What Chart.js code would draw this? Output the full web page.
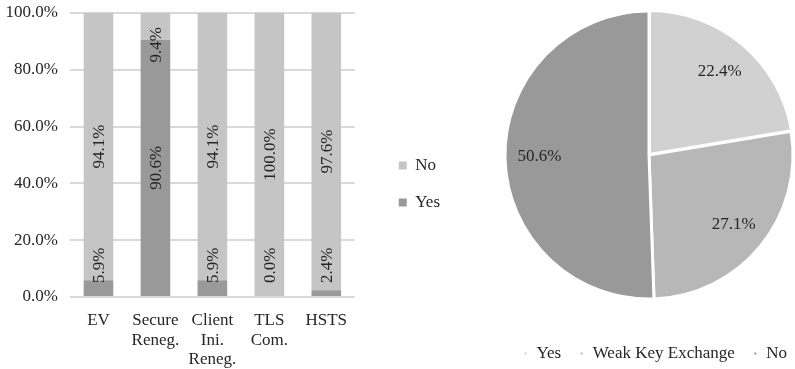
<!DOCTYPE html>
<html>
<head>
<meta charset="utf-8">
<script src="https://cdn.jsdelivr.net/npm/chart.js@4/dist/chart.umd.min.js"></script>
<style>
  html, body { margin: 0; padding: 0; background: #ffffff; }
  #wrap { position: relative; width: 795px; height: 369px; overflow: hidden; }
  #bars { position: absolute; left: 0; top: 0; }
  #pie { position: absolute; left: 480px; top: 0; }
</style>
</head>
<body>
<div id="wrap">
  <canvas id="bars" width="490" height="369"></canvas>
  <canvas id="pie" width="338" height="369"></canvas>
</div>
<script>
// Feature support, share of sites (%)
const categories = [['EV'], ['Secure', 'Reneg.'], ['Client', 'Ini.', 'Reneg.'], ['TLS', 'Com.'], ['HSTS']];
const yesShare = [5.9, 90.6, 5.9, 0.0, 2.4];
const noShare = [94.1, 9.4, 94.1, 100.0, 97.6];
const yTickValues = [0, 20, 40, 60, 80, 100];

// Key exchange breakdown (%)
const pieLabels = ['Yes', 'Weak Key Exchange', 'No'];
const pieShares = [22.4, 27.1, 50.6];

const SERIF = '"Liberation Serif", "Times New Roman", Times, serif';
const TEXT = '#262626';
const FS = 17;
Chart.defaults.font.family = SERIF;
Chart.defaults.font.size = FS;
Chart.defaults.color = TEXT;
Chart.defaults.animation = false;
Chart.defaults.responsive = false;

const pct = v => Number(v).toFixed(1) + '%';

// Moves the legend box by a fixed amount after layout
const legendShift = {
  id: 'legendShift',
  afterLayout(chart, args, opts) {
    const l = chart.legend;
    if (!l) return;
    const dx = opts.dx || 0, dy = opts.dy || 0;
    l.left += dx; l.right += dx; l.top += dy; l.bottom += dy;
  }
};

// Vertical value labels inside the stacked bars, kept inside the plot
const barValueLabels = {
  id: 'barValueLabels',
  afterDatasetsDraw(chart, args, opts) {
    const ctx = chart.ctx;
    const area = chart.chartArea;
    const m = opts.margin || 14;
    ctx.save();
    ctx.font = FS + 'px ' + SERIF;
    ctx.fillStyle = TEXT;
    ctx.textAlign = 'center';
    ctx.textBaseline = 'middle';
    chart.data.datasets.forEach((ds, di) => {
      const meta = chart.getDatasetMeta(di);
      meta.data.forEach((bar, i) => {
        const p = bar.getProps(['x', 'y', 'base'], true);
        const txt = pct(ds.data[i]);
        const w = ctx.measureText(txt).width;
        let cy = (p.y + p.base) / 2;
        cy = Math.max(cy, area.top + m + w / 2);
        cy = Math.min(cy, area.bottom - m - w / 2);
        ctx.save();
        ctx.translate(p.x, cy);
        ctx.rotate(-Math.PI / 2);
        ctx.fillText(txt, 0, 1);
        ctx.restore();
      });
    });
    ctx.restore();
  }
};

// Percent labels on the pie slices
const pieValueLabels = {
  id: 'pieValueLabels',
  afterDatasetsDraw(chart, args, opts) {
    const ctx = chart.ctx;
    const meta = chart.getDatasetMeta(0);
    const ds = chart.data.datasets[0];
    ctx.save();
    ctx.font = FS + 'px ' + SERIF;
    ctx.fillStyle = TEXT;
    ctx.textAlign = 'center';
    ctx.textBaseline = 'middle';
    meta.data.forEach((arc, i) => {
      const p = arc.getProps(['x', 'y', 'startAngle', 'endAngle', 'outerRadius'], true);
      const mid = (p.startAngle + p.endAngle) / 2;
      const r = p.outerRadius * (opts.ratio || 0.76);
      ctx.fillText(pct(ds.data[i]), p.x + Math.cos(mid) * r, p.y + Math.sin(mid) * r);
    });
    ctx.restore();
  }
};

new Chart(document.getElementById('bars'), {
  type: 'bar',
  data: {
    labels: categories,
    datasets: [
      { label: 'Yes', data: yesShare, backgroundColor: '#999999', barPercentage: 0.52, categoryPercentage: 1 },
      { label: 'No', data: noShare, backgroundColor: '#c4c5c4', barPercentage: 0.52, categoryPercentage: 1 }
    ]
  },
  options: {
    maintainAspectRatio: false,
    layout: { padding: { left: 5, top: 13, right: 64, bottom: 0 } },
    scales: {
      x: {
        stacked: true,
        grid: { display: false, drawTicks: false },
        border: { display: false },
        ticks: { padding: 14, color: TEXT, maxRotation: 0, autoSkip: false, font: { lineHeight: 1.15 } },
        afterFit: axis => { axis.height = 72; }
      },
      y: {
        stacked: true,
        min: 0, max: 100,
        afterBuildTicks: axis => { axis.ticks = yTickValues.map(v => ({ value: v })); },
        grid: { color: '#d9d9d9', lineWidth: 2, drawTicks: false },
        border: { display: false },
        ticks: { padding: 12, color: TEXT, callback: v => pct(v) },
        afterFit: axis => { axis.width = 65; axis.paddingTop = 0; axis.paddingBottom = 0; }
      }
    },
    plugins: {
      legend: {
        position: 'right',
        reverse: true,
        labels: { boxWidth: 8, boxHeight: 8, padding: 20, color: TEXT, font: { size: FS, family: SERIF } }
      },
      tooltip: { enabled: false },
      legendShift: { dx: 24, dy: -7 },
      barValueLabels: { margin: 14 }
    }
  },
  plugins: [legendShift, barValueLabels]
});

new Chart(document.getElementById('pie'), {
  type: 'pie',
  data: {
    labels: pieLabels,
    datasets: [{
      data: pieShares,
      backgroundColor: ['#d0d1d0', '#b7b7b7', '#999999'],
      borderColor: '#ffffff',
      borderWidth: 3,
      offset: [3, 0, 0]
    }]
  },
  options: {
    maintainAspectRatio: false,
    layout: { padding: { left: 0, top: 8, right: 0, bottom: 22 } },
    plugins: {
      legend: {
        position: 'bottom',
        labels: { boxWidth: 5, boxHeight: 5, padding: 18, color: TEXT, font: { size: FS, family: SERIF } }
      },
      tooltip: { enabled: false },
      legendShift: { dx: 6, dy: 25 },
      pieValueLabels: { ratio: 0.76 }
    }
  },
  plugins: [legendShift, pieValueLabels]
});
</script>
</body>
</html>
